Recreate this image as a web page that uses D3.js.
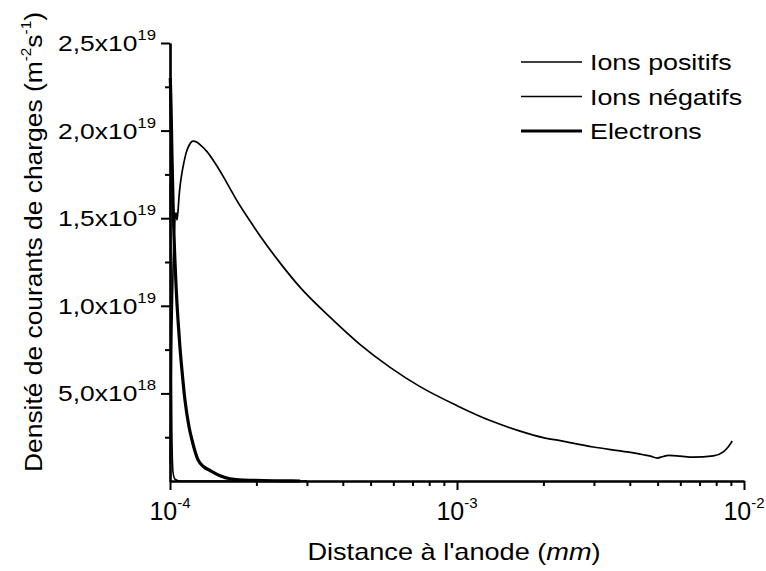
<!DOCTYPE html>
<html>
<head>
<meta charset="utf-8">
<script src="https://cdn.jsdelivr.net/npm/d3@7"></script>
<style>
  html, body { margin: 0; padding: 0; background: #fff; }
  svg { display: block; }
  text { font-family: "Liberation Sans", Arial, Helvetica, sans-serif; fill: #000; }
</style>
</head>
<body>
<svg id="chart" width="766" height="571"></svg>
<script>
// ---------------- data ----------------
const xMajorTicks = [1e-4, 1e-3, 1e-2];
const xMajorExponents = ["-4", "-3", "-2"];
const xMinorTicks = [2e-4,3e-4,4e-4,5e-4,6e-4,7e-4,8e-4,9e-4,2e-3,3e-3,4e-3,5e-3,6e-3,7e-3,8e-3,9e-3];

const yMajorTicks = [5e18, 1e19, 1.5e19, 2e19, 2.5e19];
const yTickMantissas = ["5,0", "1,0", "1,5", "2,0", "2,5"];
const yTickExponents = ["18", "19", "19", "19", "19"];
const yMinorTicks = [2.5e18, 7.5e18, 1.25e19, 1.75e19, 2.25e19];

const seriesNames = ["Ions positifs", "Ions négatifs", "Electrons"];

// Ions positifs: distance (mm), flux (m^-2 s^-1)
const ionsPositifsX = [1.0024e-4,1.008e-4,1.0162e-4,1.0244e-4,1.0326e-4,1.0409e-4,1.0493e-4,1.0578e-4,1.0663e-4,1.0749e-4,1.0835e-4,1.101e-4,1.1188e-4,1.1369e-4,1.1647e-4,1.2027e-4,1.2419e-4,1.272e-4,1.3456e-4,1.4351e-4,1.5305e-4,1.618e-4,1.7108e-4,1.8985e-4,2.058e-4,2.418e-4,2.8411e-4,3.6103e-4,4.5877e-4,5.8297e-4,7.4076e-4,1.0e-3,1.305e-3,1.659e-3,1.996e-3,2.288e-3,2.982e-3,3.92e-3,4.46e-3,4.72e-3,4.99e-3,5.23e-3,5.45e-3,5.99e-3,6.65e-3,7.82e-3,8.47e-3,8.82e-3,9.1e-3];
const ionsPositifsY = [1.0e18,5.0e18,9.0e18,1.2e19,1.38e19,1.5e19,1.53e19,1.49e19,1.54e19,1.62e19,1.68e19,1.76e19,1.82e19,1.87e19,1.915e19,1.94e19,1.933e19,1.92e19,1.88e19,1.815e19,1.74e19,1.67e19,1.60e19,1.485e19,1.40e19,1.245e19,1.105e19,9.35e18,7.8e18,6.5e18,5.4e18,4.3e18,3.45e18,2.85e18,2.48e18,2.30e18,1.94e18,1.66e18,1.50e18,1.42e18,1.31e18,1.40e18,1.46e18,1.42e18,1.36e18,1.43e18,1.66e18,1.95e18,2.28e18];

// Ions négatifs
const ionsNegatifsX = [1.0024e-4,1.008e-4,1.0146e-4,1.0244e-4,1.0409e-4,1.0835e-4,1.2e-4,1.5e-4,2.0e-4,3.0e-4];
const ionsNegatifsY = [1.7e19,1.0e19,3.0e18,5.0e17,1.0e17,0,0,0,0,0];

// Electrons
const electronsX = [1.0024e-4,1.008e-4,1.0162e-4,1.0244e-4,1.0326e-4,1.0409e-4,1.0493e-4,1.0578e-4,1.0663e-4,1.0835e-4,1.101e-4,1.1279e-4,1.1647e-4,1.1931e-4,1.222e-4,1.2524e-4,1.3137e-4,1.3789e-4,1.4939e-4,1.618e-4,1.8985e-4,2.418e-4,2.8411e-4];
const electronsY = [2.30e19,2.15e19,1.85e19,1.60e19,1.40e19,1.25e19,1.12e19,1.01e19,9.2e18,7.6e18,6.3e18,4.6e18,3.1e18,2.34e18,1.7e18,1.2e18,8.0e17,6.0e17,3.0e17,1.3e17,4.0e16,1.0e16,0];

// ---------------- layout ----------------
const svg = d3.select("#chart");
const x = d3.scaleLog().domain([1e-4, 1e-2]).range([170, 744]);
const y = d3.scaleLinear().domain([0, 2.5e19]).range([481, 43]);

// curves
const line = d3.line().x(d => x(d[0])).y(d => y(d[1])).curve(d3.curveMonotoneX);
const zip = (a, b) => a.map((v, i) => [v, b[i]]);

svg.append("path").datum(zip(electronsX, electronsY))
  .attr("d", line).attr("fill", "none").attr("stroke", "#000").attr("stroke-width", 3.2)
  .attr("stroke-linejoin", "round");
svg.append("path").datum(zip(ionsNegatifsX, ionsNegatifsY))
  .attr("d", line).attr("fill", "none").attr("stroke", "#000").attr("stroke-width", 1.6);
svg.append("path").datum(zip(ionsPositifsX, ionsPositifsY))
  .attr("d", line).attr("fill", "none").attr("stroke", "#000").attr("stroke-width", 1.7)
  .attr("stroke-linejoin", "round");

// axes
function styleAxis(g) {
  g.selectAll("path.domain").attr("stroke", "#000").attr("stroke-width", 2.2);
  g.selectAll(".tick line").attr("stroke", "#000").attr("stroke-width", 2);
}
svg.append("g").attr("transform", "translate(0,481)")
  .call(d3.axisBottom(x).tickValues(xMinorTicks).tickSize(5).tickSizeOuter(0).tickFormat(""))
  .call(styleAxis);
svg.append("g").attr("transform", "translate(0,481)")
  .call(d3.axisBottom(x).tickValues(xMajorTicks).tickSize(9).tickSizeOuter(0).tickFormat(""))
  .call(styleAxis);
svg.append("g").attr("transform", "translate(170,0)")
  .call(d3.axisLeft(y).tickValues(yMinorTicks).tickSize(5).tickSizeOuter(0).tickFormat(""))
  .call(styleAxis);
svg.append("g").attr("transform", "translate(170,0)")
  .call(d3.axisLeft(y).tickValues(yMajorTicks).tickSize(9).tickSizeOuter(0).tickFormat(""))
  .call(styleAxis);

// stretched text helper
function stext(tx, ty, sx, rot) {
  const g = svg.append("g")
    .attr("transform", `translate(${tx},${ty})` + (rot ? ` rotate(${rot})` : "") + ` scale(${sx},1)`);
  return g.append("text").attr("x", 0).attr("y", 0);
}

// x tick labels
xMajorTicks.forEach((v, i) => {
  const t = stext(x(v), 520, 1.0).attr("text-anchor", "middle").attr("font-size", 25);
  t.append("tspan").text("10");
  t.append("tspan").attr("font-size", 15).attr("dy", -12).text(xMajorExponents[i]);
});

// y tick labels
yMajorTicks.forEach((v, i) => {
  const t = stext(156, y(v) + 8, 1.2).attr("text-anchor", "end").attr("font-size", 22);
  t.append("tspan").text(yTickMantissas[i] + "x10");
  t.append("tspan").attr("font-size", 14).attr("dy", -11).text(yTickExponents[i]);
});

// axis titles
stext(454, 560, 1.18).attr("text-anchor", "middle").attr("font-size", 23)
  .call(t => {
    t.append("tspan").text("Distance à l'anode  (");
    t.append("tspan").attr("font-style", "italic").text("mm");
    t.append("tspan").text(")");
  });

stext(42, 242, 1.1, -90).attr("text-anchor", "middle").attr("font-size", 24)
  .call(t => {
    t.append("tspan").text("Densité de courants de charges  (m");
    t.append("tspan").attr("font-size", 14).attr("dy", -11).text("-2");
    t.append("tspan").attr("dy", 11).text("s");
    t.append("tspan").attr("font-size", 14).attr("dy", -11).text("-1");
    t.append("tspan").attr("dy", 11).text(")");
  });

// legend
const legendY = d3.scalePoint().domain(seriesNames).range([62, 131]);
const legendWidths = [1.7, 1.7, 3.2];
seriesNames.forEach((name, i) => {
  const ly = legendY(name);
  svg.append("line").attr("x1", 521).attr("x2", 582).attr("y1", ly).attr("y2", ly)
    .attr("stroke", "#000").attr("stroke-width", legendWidths[i]);
  stext(590, ly + 8, 1.22).attr("font-size", 22).text(name);
});
</script>
</body>
</html>
